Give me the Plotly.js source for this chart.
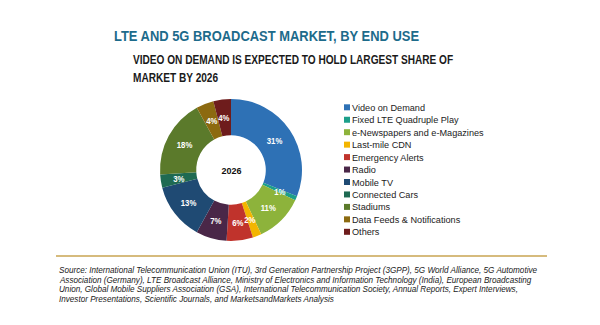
<!DOCTYPE html>
<html>
<head>
<meta charset="utf-8">
<script src="https://cdn.plot.ly/plotly-3.0.1.min.js"></script>
<style>
  html, body { margin: 0; padding: 0; background: #ffffff; }
  #chart { width: 600px; height: 325px; }
</style>
</head>
<body>
<div id="chart"></div>
<script>
// ---- Data ----
const categories = [
  "Video on Demand",
  "Fixed LTE Quadruple Play",
  "e-Newspapers and e-Magazines",
  "Last-mile CDN",
  "Emergency Alerts",
  "Radio",
  "Mobile TV",
  "Connected Cars",
  "Stadiums",
  "Data Feeds & Notifications",
  "Others"
];
const shares = [31, 1, 11, 2, 6, 7, 13, 3, 18, 4, 4];
const sliceColors = [
  "#2e71b5", "#1c9f8a", "#8db33b", "#f3b500", "#c0332c",
  "#4a2748", "#1f4a73", "#1e6a52", "#5b7a2b", "#8c6a10", "#6e1c1c"
];
const centerLabel = "2026";
const mainTitle = "LTE AND 5G BROADCAST MARKET, BY END USE";
const subTitleLines = [
  "VIDEO ON DEMAND IS EXPECTED TO HOLD LARGEST SHARE OF",
  "MARKET BY 2026"
];
const sourceLines = [
  "Source: International Telecommunication Union (ITU), 3rd Generation Partnership Project (3GPP), 5G World Alliance, 5G Automotive",
  "Association (Germany), LTE Broadcast Alliance, Ministry of Electronics and Information Technology (India), European Broadcasting",
  "Union, Global Mobile Suppliers Association (GSA), International Telecommunication Society, Annual Reports, Expert Interviews,",
  "Investor Presentations, Scientific Journals, and MarketsandMarkets Analysis"
];

// ---- Layout helpers (pixel -> paper) ----
const W = 600, H = 325;
const px = x => x / W;
const py = y => 1 - y / H;

const cx = 231, cy = 170, R = 71, HOLE = 0.49;

const trace = {
  type: "pie",
  labels: categories,
  values: shares,
  marker: { colors: sliceColors, line: { width: 0 } },
  hole: HOLE,
  sort: false,
  direction: "clockwise",
  rotation: 0,
  textinfo: "none",
  domain: { x: [px(cx - R), px(cx + R)], y: [py(cy + R), py(cy - R)] },
  showlegend: false,
  hoverinfo: "label+percent"
};

const annotations = [];
const shapes = [];
const squeeze = []; // horizontal compression factor per annotation (to mimic the condensed typeface)

function addAnn(a, k) { annotations.push(a); squeeze.push(k); }

addAnn({
  xref: "paper", yref: "paper", x: px(112), y: py(35), xanchor: "left", yanchor: "middle", align: "left",
  text: "<b>" + mainTitle + "</b>", showarrow: false,
  font: { family: "Liberation Sans, Arial, sans-serif", size: 15.5, color: "#1d6b8b" }
}, 0.835);
const subY = [59.5, 77.5];
subTitleLines.forEach((t, i) => {
  addAnn({
    xref: "paper", yref: "paper", x: px(131), y: py(subY[i]), xanchor: "left", yanchor: "middle", align: "left",
    text: "<b>" + t + "</b>", showarrow: false,
    font: { family: "Liberation Sans, Arial, sans-serif", size: 12.8, color: "#1a1a1a" }
  }, 0.79);
});
addAnn({
  xref: "paper", yref: "paper", x: px(cx), y: py(cy), xanchor: "center", yanchor: "middle",
  text: "<b>" + centerLabel + "</b>", showarrow: false,
  font: { family: "Liberation Sans, Arial, sans-serif", size: 9.5, color: "#111111" }
}, 0.95);

// Slice value labels, placed at each slice's mid-angle in the middle of the ring
const total = shares.reduce((a, b) => a + b, 0);
const rMid = R * (1 + HOLE) / 2;
let cum = 0;
shares.forEach((v) => {
  const mid = (cum + v / 2) / total * 2 * Math.PI;
  cum += v;
  const lx = cx + rMid * Math.sin(mid);
  const ly = cy - rMid * Math.cos(mid);
  addAnn({
    xref: "paper", yref: "paper", x: px(lx), y: py(ly), xanchor: "center", yanchor: "middle",
    text: "<b>" + v + "%</b>", showarrow: false,
    font: { family: "Liberation Sans, Arial, sans-serif", size: 9.5, color: "#ffffff" }
  }, 0.82);
});

// Custom legend
const legTop = 107.3, legStep = 12.45;
categories.forEach((c, i) => {
  const yc = legTop + i * legStep;
  shapes.push({
    type: "rect", xref: "paper", yref: "paper",
    x0: px(344), x1: px(350), y0: py(yc + 3), y1: py(yc - 3),
    fillcolor: sliceColors[i], line: { width: 0 }
  });
  addAnn({
    xref: "paper", yref: "paper", x: px(350.5), y: py(yc), xanchor: "left", yanchor: "middle", align: "left",
    text: c, showarrow: false,
    font: { family: "Liberation Sans, Arial, sans-serif", size: 9.8, color: "#222222" }
  }, 0.935);
});

// Gold divider line
shapes.push({
  type: "line", xref: "paper", yref: "paper",
  x0: px(56), x1: px(547), y0: py(256), y1: py(256),
  line: { color: "#c9a552", width: 1.5 }
});

// Source lines
const srcY = [270, 279.6, 289.2, 298.8];
sourceLines.forEach((t, i) => {
  addAnn({
    xref: "paper", yref: "paper", x: px(57), y: py(srcY[i]), xanchor: "left", yanchor: "middle", align: "left",
    text: "<i>" + t + "</i>", showarrow: false,
    font: { family: "Liberation Sans, Arial, sans-serif", size: 8.9, color: "#1a1a1a" }
  }, 0.915);
});

const layout = {
  width: W, height: H,
  margin: { l: 0, r: 0, t: 0, b: 0 },
  paper_bgcolor: "#ffffff",
  plot_bgcolor: "#ffffff",
  showlegend: false,
  annotations: annotations,
  shapes: shapes
};

Plotly.newPlot("chart", [trace], layout, { displayModeBar: false, staticPlot: true }).then(gd => {
  squeeze.forEach((k, i) => {
    if (k === 1) return;
    const el = gd.querySelector('g.annotation[data-index="' + i + '"] text.annotation-text');
    if (!el) return;
    const bb = el.getBBox();
    const a = annotations[i];
    const ax = a.xanchor === "left" ? bb.x : bb.x + bb.width / 2;
    const prev = el.getAttribute("transform") || "";
    el.setAttribute("transform", prev + " translate(" + ax + ",0) scale(" + k + ",1) translate(" + (-ax) + ",0)");
  });
});
</script>
</body>
</html>
